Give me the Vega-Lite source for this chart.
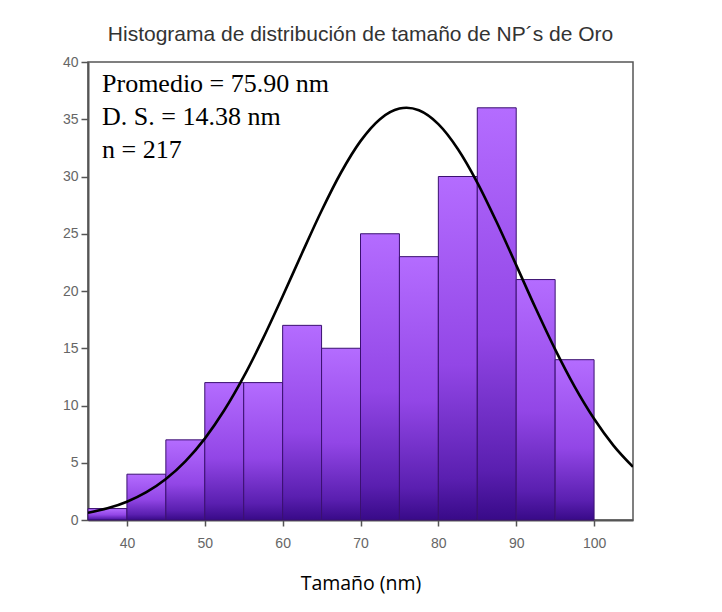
{
  "$schema": "https://vega.github.io/schema/vega-lite/v6.json",
  "width": 545,
  "height": 458,
  "autosize": {"type": "none"},
  "padding": {"left": 88, "top": 62, "right": 89, "bottom": 92},
  "background": "white",
  "title": {
    "text": "Histograma de distribución de tamaño de NP´s de Oro",
    "font": "Liberation Sans",
    "fontSize": 21,
    "fontWeight": "normal",
    "color": "#333333",
    "anchor": "middle",
    "offset": 10
  },
  "config": {
    "view": {"stroke": "#555555", "strokeWidth": 1.5},
    "axis": {
      "domainColor": "#555555",
      "domainWidth": 2,
      "tickColor": "#555555",
      "tickWidth": 1.5,
      "labelFont": "Liberation Sans",
      "labelFontSize": 14,
      "labelColor": "#666666",
      "labelOverlap": false,
      "grid": false
    }
  },
  "datasets": {
    "bins": [
      {"start": 35, "end": 40, "count": 1},
      {"start": 40, "end": 45, "count": 4},
      {"start": 45, "end": 50, "count": 7},
      {"start": 50, "end": 55, "count": 12},
      {"start": 55, "end": 60, "count": 12},
      {"start": 60, "end": 65, "count": 17},
      {"start": 65, "end": 70, "count": 15},
      {"start": 70, "end": 75, "count": 25},
      {"start": 75, "end": 80, "count": 23},
      {"start": 80, "end": 85, "count": 30},
      {"start": 85, "end": 90, "count": 36},
      {"start": 90, "end": 95, "count": 21},
      {"start": 95, "end": 100, "count": 14}
    ],
    "curve": [
      {"x": 35, "y": 0.63}, {"x": 37.5, "y": 1.02}, {"x": 40, "y": 1.6},
      {"x": 42.5, "y": 2.43}, {"x": 45, "y": 3.58}, {"x": 47.5, "y": 5.12},
      {"x": 50, "y": 7.11}, {"x": 52.5, "y": 9.58}, {"x": 55, "y": 12.52},
      {"x": 57.5, "y": 15.88}, {"x": 60, "y": 19.54}, {"x": 62.5, "y": 23.32},
      {"x": 65, "y": 27.01}, {"x": 67.5, "y": 30.35}, {"x": 70, "y": 33.09},
      {"x": 72.5, "y": 35.01}, {"x": 75, "y": 35.93}, {"x": 75.9, "y": 36.0},
      {"x": 77.5, "y": 35.78}, {"x": 80, "y": 34.57}, {"x": 82.5, "y": 32.4},
      {"x": 85, "y": 29.47}, {"x": 87.5, "y": 26.0}, {"x": 90, "y": 22.26},
      {"x": 92.5, "y": 18.49}, {"x": 95, "y": 14.9}, {"x": 97.5, "y": 11.65},
      {"x": 100, "y": 8.84}, {"x": 102.5, "y": 6.5}, {"x": 105, "y": 4.64}
    ],
    "notes": [
      {"x": 36.8, "y": 37.35, "label": "Promedio = 75.90 nm"},
      {"x": 36.8, "y": 34.5, "label": "D. S. = 14.38 nm"},
      {"x": 36.8, "y": 31.65, "label": "n = 217"}
    ]
  },
  "layer": [
    {
      "data": {"name": "bins"},
      "mark": {
        "type": "bar",
        "stroke": "#3a1070",
        "strokeWidth": 1,
        "color": {
          "gradient": "linear",
          "x1": 0, "y1": 0, "x2": 0, "y2": 1,
          "stops": [
            {"offset": 0, "color": "#b46cff"},
            {"offset": 0.55, "color": "#9246e6"},
            {"offset": 0.88, "color": "#5a1fb0"},
            {"offset": 1, "color": "#380a88"}
          ]
        }
      },
      "encoding": {
        "x": {
          "field": "start", "type": "quantitative",
          "scale": {"domain": [35, 105], "nice": false, "zero": false},
          "axis": {
            "values": [40, 50, 60, 70, 80, 90, 100],
            "labelOverlap": false,
            "labelFlush": false,
            "labelFontSize": 14,
            "labelColor": "#666666",
            "tickSize": 6,
            "labelPadding": 10,
            "title": "Tamaño (nm)",
            "titleFont": "Open Sans",
            "titleFontSize": 19.5,
            "titleFontWeight": "normal",
            "titleColor": "#000000",
            "titlePadding": 24
          }
        },
        "x2": {"field": "end"},
        "y": {
          "field": "count", "type": "quantitative",
          "scale": {"domain": [0, 40], "nice": false},
          "axis": {
            "values": [0, 2.5, 5, 7.5, 10, 12.5, 15, 17.5, 20, 22.5, 25, 27.5, 30, 32.5, 35, 37.5, 40],
            "labelExpr": "datum.value % 5 === 0 ? datum.label : ''",
            "labelOverlap": false,
            "labelFlush": false,
            "labelFontSize": 14,
            "labelColor": "#666666",
            "tickSize": {"condition": {"test": "datum.value % 5 === 0", "value": 7}, "value": 4},
            "labelPadding": 3,
            "title": null
          }
        },
        "y2": {"datum": 0}
      }
    },
    {
      "data": {"name": "curve"},
      "mark": {"type": "line", "color": "#000000", "strokeWidth": 2.6, "interpolate": "monotone", "clip": true},
      "encoding": {
        "x": {"field": "x", "type": "quantitative"},
        "y": {"field": "y", "type": "quantitative"}
      }
    },
    {
      "data": {"name": "notes"},
      "mark": {"type": "text", "align": "left", "baseline": "alphabetic", "font": "Liberation Serif", "fontSize": 26, "color": "#000000"},
      "encoding": {
        "x": {"field": "x", "type": "quantitative"},
        "y": {"field": "y", "type": "quantitative"},
        "text": {"field": "label"}
      }
    }
  ]
}
